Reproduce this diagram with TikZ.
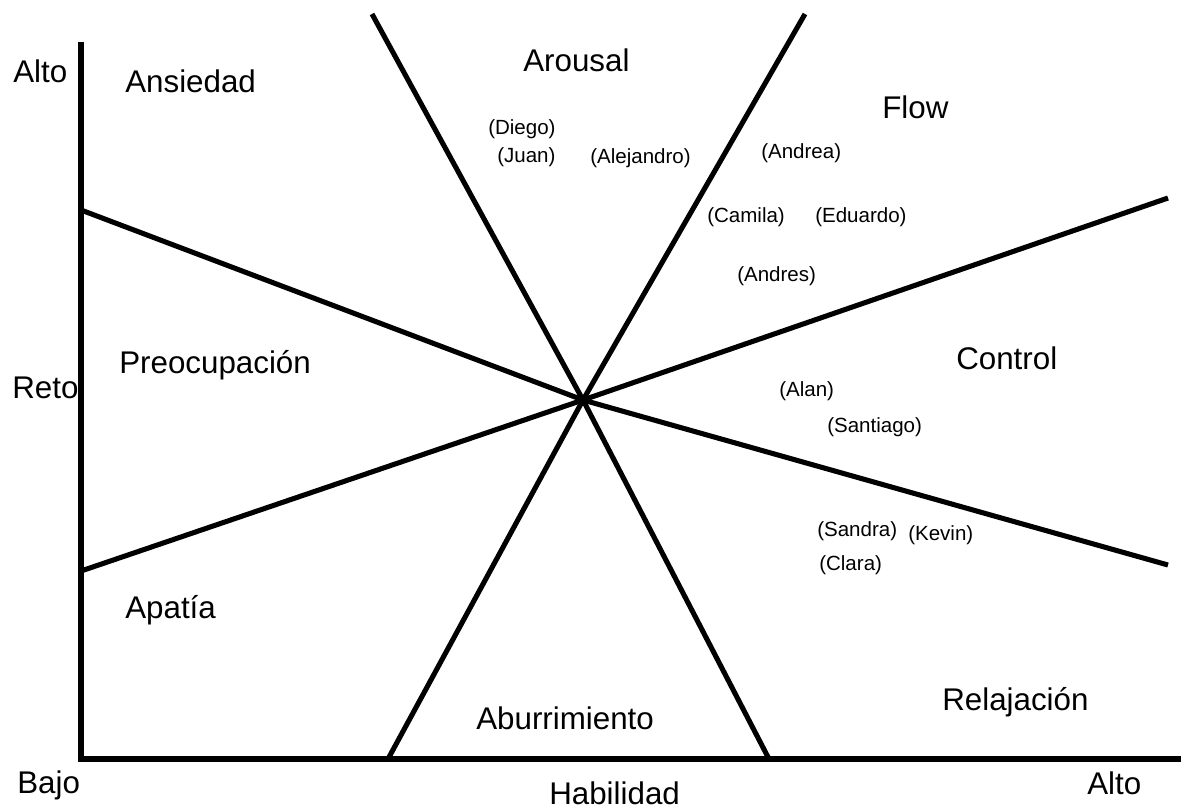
\documentclass[tikz,border=0pt]{standalone}
\usepackage{fontspec}
\setmainfont{Liberation Sans}
\begin{document}
\begin{tikzpicture}[x=0.75pt,y=-0.75pt,
  axisline/.style={line width=3.8pt, line join=miter},
  ray/.style={line width=3.8pt},
  zone/.style={anchor=base west, inner sep=0pt, font=\fontsize{23.5}{26}\selectfont},
  person/.style={anchor=base west, inner sep=0pt, font=\fontsize{15.4}{18}\selectfont}]
\useasboundingbox (0,0) rectangle (1181,811);
% axes
\coordinate (ytop) at (81,42);
\coordinate (origin) at (81,759);
\coordinate (xend) at (1181,759);
\draw[axisline] (ytop) -- (origin) -- (xend);
% rays from center
\coordinate (c) at (583,400);
\coordinate (r1) at (81,210);
\coordinate (r2) at (1168,565);
\coordinate (r3) at (81,571);
\coordinate (r4) at (1168,198);
\coordinate (r5) at (372,14);
\coordinate (r6) at (805,14);
\coordinate (r7) at (388,759);
\coordinate (r8) at (769,759);
\foreach \e in {r1,r2,r3,r4,r5,r6,r7,r8} \draw[ray] (c) -- (\e);
% axis labels
\node[zone] (altoy) at (13,82) {Alto};
\node[zone] (reto) at (12,398) {Reto};
\node[zone] (bajo) at (17,793) {Bajo};
\node[zone] (hab) at (549,804) {Habilidad};
\node[zone] (altox) at (1087,794) {Alto};
% zones
\node[zone] (ans) at (125,92) {Ansiedad};
\node[zone] (preo) at (119,373) {Preocupación};
\node[zone] (apa) at (125,618) {Apatía};
\node[zone] (abu) at (476,729) {Aburrimiento};
\node[zone] (rel) at (942,710) {Relajación};
\node[zone] (con) at (956,369) {Control};
\node[zone] (flow) at (882,118) {Flow};
\node[zone] (aro) at (523,71) {Arousal};
% people
\node[person] (diego) at (488,134) {(Diego)};
\node[person] (juan) at (497,162) {(Juan)};
\node[person] (alej) at (590,163) {(Alejandro)};
\node[person] (andrea) at (761,158) {(Andrea)};
\node[person] (camila) at (707,222) {(Camila)};
\node[person] (eduardo) at (815,222) {(Eduardo)};
\node[person] (andres) at (737,281) {(Andres)};
\node[person] (alan) at (779,396) {(Alan)};
\node[person] (santiago) at (827,432) {(Santiago)};
\node[person] (sandra) at (817,536) {(Sandra)};
\node[person] (kevin) at (908,540) {(Kevin)};
\node[person] (clara) at (819,570) {(Clara)};
\end{tikzpicture}
\end{document}
